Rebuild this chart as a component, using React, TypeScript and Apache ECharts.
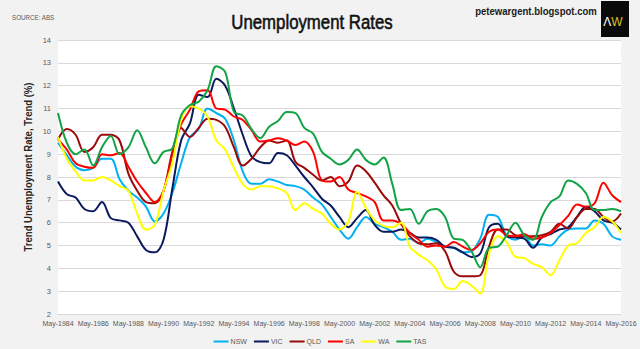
import React, { useEffect, useRef } from 'react';
import * as echarts from 'echarts';

const periods = [
  'May-1984', 'Nov-1984', 'May-1985', 'Nov-1985', 'May-1986', 'Nov-1986', 'May-1987', 'Nov-1987',
  'May-1988', 'Nov-1988', 'May-1989', 'Nov-1989', 'May-1990', 'Nov-1990', 'May-1991', 'Nov-1991',
  'May-1992', 'Nov-1992', 'May-1993', 'Nov-1993', 'May-1994', 'Nov-1994', 'May-1995', 'Nov-1995',
  'May-1996', 'Nov-1996', 'May-1997', 'Nov-1997', 'May-1998', 'Nov-1998', 'May-1999', 'Nov-1999',
  'May-2000', 'Nov-2000', 'May-2001', 'Nov-2001', 'May-2002', 'Nov-2002', 'May-2003', 'Nov-2003',
  'May-2004', 'Nov-2004', 'May-2005', 'Nov-2005', 'May-2006', 'Nov-2006', 'May-2007', 'Nov-2007',
  'May-2008', 'Nov-2008', 'May-2009', 'Nov-2009', 'May-2010', 'Nov-2010', 'May-2011', 'Nov-2011',
  'May-2012', 'Nov-2012', 'May-2013', 'Nov-2013', 'May-2014', 'Nov-2014', 'May-2015', 'Nov-2015',
  'May-2016',
];

const nsw = [
  9.5, 8.96, 8.45, 8.3, 8.4, 8.8, 8.8, 7.9, 7.4, 7.1, 6.7, 6.05, 6.4,
  7.3, 8.6, 9.75, 10.1, 11.0, 10.8, 10.55, 9.6, 8.25, 7.7, 7.7, 7.9, 7.8,
  7.65, 7.6, 7.45, 7.1, 6.8, 6.25, 5.7, 5.3, 5.8, 6.25, 5.95, 5.8,
  5.6, 5.25, 5.3, 5.1, 5.3, 5.15, 4.95, 4.9, 4.7, 4.75, 5.3, 6.35,
  6.25, 5.45, 5.25, 5.4, 5.0, 5.05, 5.0, 5.4, 5.7, 5.75, 5.75, 6.1, 5.95, 5.4, 5.25,
];
const vic = [
  7.8, 7.25, 7.1, 6.6, 6.5, 6.9, 6.2, 6.1, 6.0, 5.4, 4.8, 4.7, 5.25,
  7.5, 9.6, 10.35, 11.6, 11.5, 12.3, 12.0, 11.0, 9.85, 8.9, 8.65, 8.6, 9.05,
  8.95, 8.5, 8.0, 7.55, 7.05, 6.75, 6.25, 5.8, 6.2, 6.55, 5.9, 5.6,
  5.6, 5.7, 5.55, 5.35, 5.35, 5.25, 4.95, 4.9, 4.7, 4.5, 4.65, 5.8,
  5.95, 5.4, 5.35, 5.3, 4.9, 5.35, 5.5, 5.7, 5.8, 6.25, 6.7, 6.5, 6.1, 6.0, 5.7,
];
const qld = [
  9.65, 10.1, 9.85, 9.1, 9.3, 9.85, 9.85, 9.6, 8.15, 7.4, 6.9, 6.85, 7.4,
  9.1, 10.15, 9.75, 10.15, 10.55, 10.5, 10.2, 9.3, 8.5, 8.8, 9.3, 9.6, 9.5,
  9.6, 8.65, 8.4, 8.1, 7.85, 8.0, 7.6, 7.8, 8.5, 8.25, 7.75, 7.2,
  6.75, 5.95, 5.4, 5.1, 5.05, 5.1, 4.75, 3.85, 3.65, 3.65, 3.7, 4.95,
  5.7, 5.7, 5.45, 5.4, 5.4, 5.45, 5.6, 5.95, 5.75, 6.25, 6.6, 6.6, 6.25, 6.05, 6.4,
];
const sa = [
  9.65, 9.2, 8.6, 8.45, 8.4, 9.0, 8.95, 9.05, 8.45, 7.8, 7.3, 6.9, 7.4,
  9.0, 10.3, 10.95, 11.75, 11.8, 11.0, 10.95, 10.65, 10.5, 10.05, 9.55, 9.6, 9.7,
  9.6, 9.4, 9.55, 9.1, 7.85, 7.8, 8.0, 7.45, 7.3, 7.15, 6.9, 6.1,
  6.1, 5.95, 5.55, 5.25, 4.95, 5.0, 4.95, 5.15, 4.95, 4.8, 5.1, 5.6,
  5.7, 5.45, 5.4, 5.5, 5.3, 5.35, 5.55, 5.9, 6.3, 6.8, 6.7, 6.85, 7.75, 7.2, 6.9,
];
const wa = [
  9.75, 8.8, 8.25, 7.85, 7.85, 8.0, 7.85, 7.6, 7.4, 6.4, 5.7, 5.9, 7.4,
  8.6, 10.5, 11.1, 11.0, 10.65, 9.6, 9.2, 8.4, 7.7, 7.45, 7.6, 7.6, 7.5,
  7.3, 6.55, 6.85, 6.6, 6.4, 5.95, 5.7, 6.05, 7.35, 6.65, 6.1, 5.85,
  5.8, 6.0, 4.95, 4.6, 4.35, 3.95, 3.2, 3.1, 3.45, 3.25, 2.9, 4.65,
  5.4, 5.15, 4.5, 4.45, 4.2, 4.05, 3.7, 4.35, 5.0, 5.1, 5.55, 5.8, 6.25, 6.05, 5.55,
];
const tas = [
  10.8, 9.5, 9.0, 9.2, 8.5, 9.3, 9.8, 9.0, 9.3, 10.05, 9.3, 8.6, 9.1,
  9.25, 10.7, 11.15, 11.3, 11.8, 12.85, 12.6, 10.85, 10.7, 10.1, 9.7, 10.2, 10.45,
  10.85, 10.8, 10.15, 9.9, 9.1, 8.8, 8.55, 8.75, 9.2, 8.75, 8.55, 8.85,
  7.7, 6.55, 6.6, 5.95, 6.5, 6.6, 6.25, 5.3, 5.25, 4.75, 4.05, 4.9,
  4.95, 5.45, 6.0, 5.45, 5.25, 6.25, 6.9, 7.15, 7.85, 7.7, 7.3, 6.55, 6.55, 6.6, 6.5,
];

const seriesNames = ['NSW', 'VIC', 'QLD', 'SA', 'WA', 'TAS'];
const seriesData = [nsw, vic, qld, sa, wa, tas];
const seriesColors = ['#00b0f0', '#0a1a5c', '#9b0a0a', '#ff0000', '#ffff00', '#12a346'];

const FONT = "'Liberation Sans', Arial, sans-serif";

export default function App() {
  const ref = useRef<HTMLDivElement>(null);
  useEffect(() => {
    if (!ref.current) return;
    const chart = echarts.init(ref.current, null, { renderer: 'svg' });
    chart.setOption({
      animation: false,
      backgroundColor: '#f2f2f2',
      textStyle: { fontFamily: FONT },
      grid: {
        left: 58,
        right: 19,
        top: 40,
        bottom: 35,
        show: true,
        backgroundColor: '#ffffff',
        borderWidth: 0,
      },
      legend: {
        data: seriesNames,
        left: 'center',
        top: 333,
        icon: 'rect',
        itemWidth: 15,
        itemHeight: 2,
        itemGap: 7,
        textStyle: { fontSize: 7, color: '#595959', fontFamily: FONT, padding: [0, 0, 0, -3] },
      },
      xAxis: {
        type: 'category',
        boundaryGap: false,
        data: periods,
        axisLine: { show: true, lineStyle: { color: '#d9d9d9' } },
        axisTick: { show: false },
        axisLabel: {
          interval: 3,
          showMinLabel: true,
          showMaxLabel: true,
          hideOverlap: false,
          fontSize: 7,
          color: '#595959',
          margin: 6,
          fontFamily: FONT,
        },
        splitLine: { show: false },
      },
      yAxis: {
        type: 'value',
        min: 2,
        max: 14,
        interval: 1,
        axisLine: { show: false },
        axisTick: { show: false },
        axisLabel: { fontSize: 7.5, color: '#595959', margin: 7, fontFamily: FONT },
        splitLine: { lineStyle: { color: '#d9d9d9', width: 1 } },
      },
      series: seriesNames.map((name, i) => ({
        name,
        type: 'line',
        data: seriesData[i],
        smooth: 0.35,
        showSymbol: false,
        symbol: 'none',
        lineStyle: { width: 2, color: seriesColors[i] },
        itemStyle: { color: seriesColors[i] },
      })),
      graphic: [
        {
          type: 'text',
          x: 312,
          y: 22,
          scaleX: 0.8,
          style: {
            text: 'Unemployment Rates',
            fontSize: 21,
            fontFamily: FONT,
            fill: '#111111',
            stroke: '#111111',
            lineWidth: 0.6,
            align: 'center',
            verticalAlign: 'middle',
          },
        },
        {
          type: 'text',
          x: 12,
          y: 18,
          scaleX: 0.78,
          style: {
            text: 'SOURCE: ABS',
            fontSize: 8,
            fontFamily: FONT,
            fill: '#595959',
            align: 'left',
            verticalAlign: 'middle',
          },
        },
        {
          type: 'text',
          x: 536,
          y: 11,
          scaleX: 0.87,
          style: {
            text: 'petewargent.blogspot.com',
            fontSize: 11,
            fontWeight: 'bold',
            fontFamily: FONT,
            fill: '#1a1a1a',
            align: 'center',
            verticalAlign: 'middle',
          },
        },
        {
          type: 'rect',
          shape: { x: 601, y: 1, width: 28, height: 36 },
          style: { fill: '#0a0a0a' },
        },
        {
          type: 'text',
          x: 613,
          y: 22,
          style: {
            text: '{a|Λ}{b|W}',
            align: 'center',
            verticalAlign: 'middle',
            rich: {
              a: { fontSize: 12, fill: '#ffffff', fontFamily: FONT },
              b: { fontSize: 12, fill: '#d8c41c', fontFamily: FONT },
            },
          },
        },
        {
          type: 'text',
          x: 28,
          y: 167,
          rotation: Math.PI / 2,
          scaleX: 0.95,
          style: {
            text: 'Trend Unemployment Rate, Trend (%)',
            fontSize: 10,
            fontWeight: 'bold',
            fontFamily: FONT,
            fill: '#262626',
            align: 'center',
            verticalAlign: 'middle',
          },
        },
      ],
    });
    return () => {
      chart.dispose();
    };
  }, []);
  return (
    <div
      ref={ref}
      style={{ position: 'fixed', left: 0, top: 0, width: 640, height: 349 }}
    />
  );
}
